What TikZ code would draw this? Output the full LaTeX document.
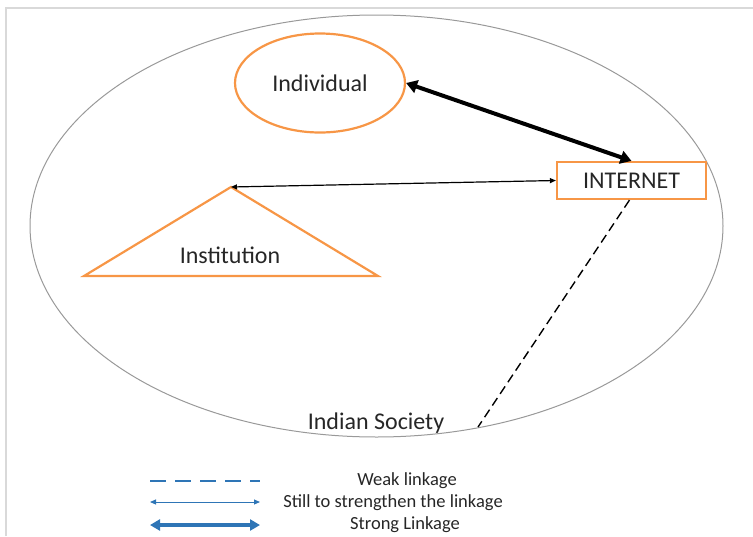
\documentclass[tikz,border=0pt]{standalone}
\usepackage{fontspec}
\setmainfont{Carlito}
\usetikzlibrary{arrows.meta,shapes.geometric}
\definecolor{offorange}{HTML}{F79646}
\definecolor{legblue}{HTML}{2E75B6}
\definecolor{framegray}{HTML}{D9D9D9}
\definecolor{txtgray}{HTML}{262626}
\tikzset{
  shapeline/.style={draw=offorange, line width=2.2pt},
  bigtext/.style={font=\fontsize{24}{28}\selectfont, text=txtgray},
  legtext/.style={font=\fontsize{18.5}{21}\selectfont, text=txtgray, anchor=center},
  strongarrow/.style={line width=4pt, {Triangle[length=11pt,width=13pt]}-{Triangle[length=11pt,width=13pt]}},
  thinarrow/.style={line width=1.2pt, {Triangle[length=6pt,width=5pt]}-{Triangle[length=6pt,width=5pt]}},
}
\begin{document}
\begin{tikzpicture}[x=1pt,y=-1pt]
\useasboundingbox (0,0) rectangle (753,536);
% frame
\draw[framegray, line width=1.5pt] (6,536) -- (6,8) -- (753,8);
% society ellipse
\draw[gray!80, line width=1pt] (376.5,226) ellipse [x radius=346.5, y radius=211];
\node[bigtext] (soc) at (376,423) {Indian Society};
% individual
\node[shapeline, ellipse, minimum width=170pt, minimum height=99pt, bigtext] (ind) at (320,83) {Individual};
% internet
\node[shapeline, rectangle, minimum width=149pt, minimum height=37pt, inner sep=0pt, bigtext] (net) at (631.5,180.5) {INTERNET};
% institution triangle
\coordinate (apex) at (231,187);
\coordinate (bl) at (84,276);
\coordinate (br) at (378,276);
\draw[shapeline, line join=miter] (apex) -- (bl) -- (br) -- cycle;
\node[bigtext] (inst) at (230,255) {Institution};
% connectors
\draw[strongarrow] (ind.east) -- (net.north);
\draw[thinarrow] (apex) -- (net.west);
\coordinate (dashend) at (478,427);
\draw[line width=1.4pt, dash pattern=on 9pt off 5pt] ([xshift=-2pt]net.south) -- (dashend);
% legend
\coordinate (l1a) at (150,481); \coordinate (l1b) at (260,481);
\coordinate (l2a) at (150,502); \coordinate (l2b) at (260,502);
\coordinate (l3a) at (150,525); \coordinate (l3b) at (260,525);
\draw[legblue, line width=2.6pt, dash pattern=on 16pt off 9pt] (l1a) -- (l1b);
\draw[legblue, line width=1pt, {Triangle[length=6pt,width=5pt]}-{Triangle[length=6pt,width=5pt]}] (l2a) -- (l2b);
\draw[legblue, line width=3.5pt, {Triangle[length=10pt,width=11pt]}-{Triangle[length=10pt,width=11pt]}] (l3a) -- (l3b);
\node[legtext] (t1) at (407,481) {Weak linkage};
\node[legtext] (t2) at (393,503) {Still to strengthen the linkage};
\node[legtext] (t3) at (405,525) {Strong Linkage};
\end{tikzpicture}
\end{document}
